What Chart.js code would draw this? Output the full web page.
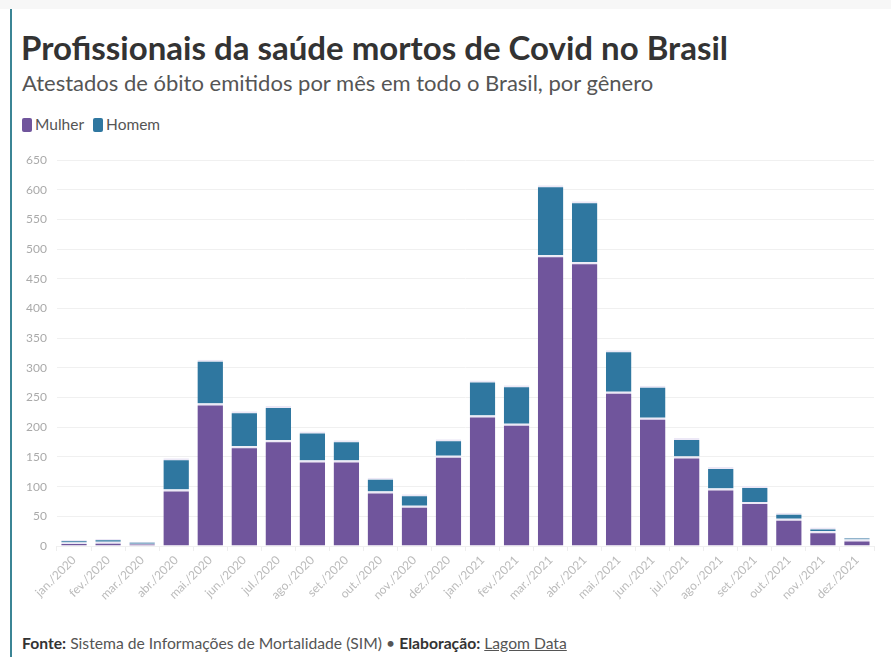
<!DOCTYPE html>
<html lang="pt-BR">
<head>
<meta charset="utf-8">
<script src="https://cdn.jsdelivr.net/npm/chart.js@4/dist/chart.umd.min.js"></script>
<style>
  html, body { margin: 0; padding: 0; background: #fff; }
  body { width: 891px; height: 657px; position: relative; overflow: hidden; font-family: Lato, "Open Sans", sans-serif; }
  .topband { position: absolute; left: 0; top: 0; width: 891px; height: 9px; background: #f7f7f7; }
  .frame { position: absolute; left: 10px; top: 9px; width: 2px; height: 648px; background: #3b8595; }
  h1 { position: absolute; left: 21px; top: 27px; margin: 0; font-size: 33px; line-height: 40px; font-weight: 700; color: #333; white-space: nowrap; }
  .sub { position: absolute; left: 22px; top: 69px; margin: 0; font-size: 22px; line-height: 28px; color: #555; white-space: nowrap; }
  .legend { position: absolute; left: 22px; top: 115px; font-size: 15.5px; line-height: 18px; color: #555; white-space: nowrap; }
  .legend span.box { display: inline-block; width: 10px; height: 14px; border-radius: 2px; vertical-align: -2px; margin-right: 3px; }
  .legend span.item { margin-right: 9px; }
  .foot { position: absolute; left: 22px; top: 634px; font-size: 15.7px; line-height: 18px; color: #555; white-space: nowrap; }
  .foot b { color: #333; }
  .foot u { color: #555; }
  #wrap { position: absolute; left: 12px; top: 143px; width: 866px; height: 473px; }
</style>
</head>
<body>
<div class="topband"></div>
<div class="frame"></div>
<h1>Profissionais da saúde mortos de Covid no Brasil</h1>
<p class="sub">Atestados de óbito emitidos por mês em todo o Brasil, por gênero</p>
<div class="legend" id="legend"></div>
<div id="wrap"><canvas id="chart"></canvas></div>
<div class="foot"><b>Fonte:</b> Sistema de Informações de Mortalidade (SIM) • <b>Elaboração:</b> <u>Lagom Data</u></div>
<script>
// Meses (rótulos do eixo x)
const months = ['jan./2020', 'fev./2020', 'mar./2020', 'abr./2020', 'mai./2020', 'jun./2020',
                'jul./2020', 'ago./2020', 'set./2020', 'out./2020', 'nov./2020', 'dez./2020',
                'jan./2021', 'fev./2021', 'mar./2021', 'abr./2021', 'mai./2021', 'jun./2021',
                'jul./2021', 'ago./2021', 'set./2021', 'out./2021', 'nov./2021', 'dez./2021'];

// Óbitos por gênero
const mulher = [6, 7, 4, 95, 240, 168, 178, 144, 144, 92, 68, 152, 220, 206, 490, 478, 260, 216, 151, 97, 74, 46, 25, 11];
const homem  = [4, 5, 3, 53, 74, 59, 58, 49, 34, 23, 19, 28, 59, 65, 118, 103, 70, 54, 31, 36, 27, 10, 6, 3];

const yTicks = [0, 50, 100, 150, 200, 250, 300, 350, 400, 450, 500, 550, 600, 650];

const series = [
    { label: 'Mulher', data: mulher, color: '#70559c' },
    { label: 'Homem', data: homem, color: '#2f77a0' }
];

// legenda simples em HTML
document.getElementById('legend').innerHTML = series.map(s =>
    '<span class="item"><span class="box" style="background:' + s.color + '"></span>' + s.label + '</span>'
).join('');

new Chart(document.getElementById('chart'), {
    type: 'bar',
    data: {
        labels: months,
        datasets: series.map(s => ({
            label: s.label,
            data: s.data,
            backgroundColor: s.color,
            borderColor: '#ece8f6',
            borderWidth: { top: 2, left: 0, right: 0, bottom: 0 },
            borderSkipped: false,
            barPercentage: 0.75,
            categoryPercentage: 1
        }))
    },
    options: {
        responsive: true,
        maintainAspectRatio: false,
        animation: false,
        layout: { padding: { top: 3, right: 4, left: 0, bottom: 0 } },
        plugins: {
            legend: { display: false },
            tooltip: { enabled: false }
        },
        scales: {
            x: {
                stacked: true,
                grid: { drawOnChartArea: false, color: '#eee', tickLength: 5 },
                border: { display: false },
                ticks: {
                    color: '#bbb',
                    font: { family: 'Lato', size: 12 },
                    maxRotation: 45,
                    minRotation: 45,
                    autoSkip: false,
                    padding: 2
                },
                afterFit: function(scale) { scale.height = 70; }
            },
            y: {
                stacked: true,
                min: 0,
                max: 650,
                grid: { color: '#f0f0f0', drawTicks: false },
                border: { display: false },
                afterBuildTicks: function(scale) { scale.ticks = yTicks.map(v => ({ value: v })); },
                ticks: {
                    color: '#aaa',
                    font: { family: 'Lato', size: 12 },
                    padding: 10
                },
                afterFit: function(scale) { scale.width = 45; }
            }
        }
    }
});
</script>
</body>
</html>
